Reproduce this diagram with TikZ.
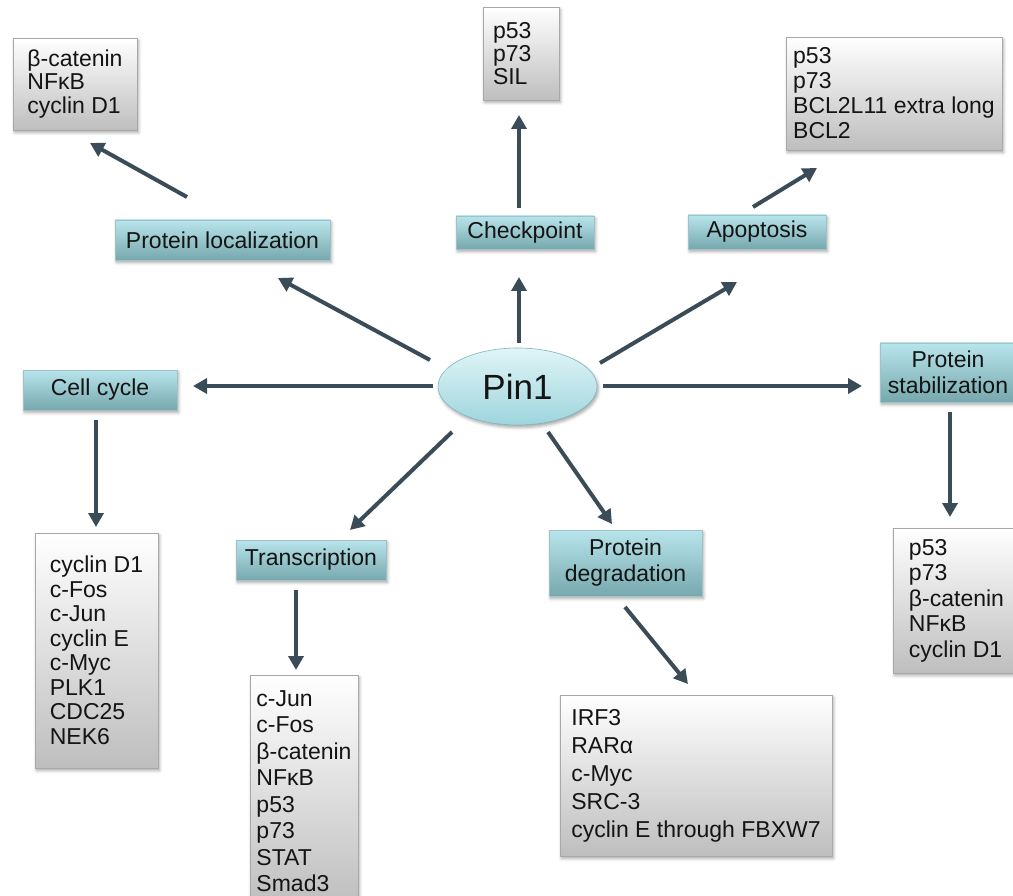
\documentclass[tikz,border=0pt]{standalone}
\usepackage{fontspec}
\setmainfont{Liberation Sans}
\usetikzlibrary{shapes.geometric,shadows,shadows.blur,arrows.meta}
\definecolor{arrc}{RGB}{58,76,88}
\definecolor{cattop}{RGB}{184,229,235}
\definecolor{catbot}{RGB}{118,168,174}
\definecolor{pintop}{RGB}{224,245,247}
\definecolor{pinbot}{RGB}{158,213,221}
\definecolor{pinedge}{RGB}{128,182,192}
\definecolor{listbot}{RGB}{190,190,190}
\definecolor{listmid}{RGB}{247,247,247}
\definecolor{listedge}{RGB}{168,168,168}
\definecolor{txt}{RGB}{20,20,20}
\begin{document}
\begin{tikzpicture}[x=1pt,y=-1pt,
  arr/.style={draw=arrc, line width=4pt, -{Triangle[length=14pt,width=15pt]}},
  shad/.style={blur shadow={shadow xshift=1.5pt, shadow yshift=-2.5pt, shadow blur radius=3pt, shadow opacity=35}},
  cat/.style={rectangle, inner sep=0pt, top color=cattop, bottom color=catbot,
    draw=catbot!70!white, line width=0.4pt, shad, text=txt,
    font=\fontsize{23}{26}\selectfont, align=center},
  lst/.style={rectangle, inner xsep=4pt, inner ysep=2pt, top color=white, middle color=listmid,
    bottom color=listbot, draw=listedge, line width=0.4pt, shad, align=left, text=txt},
  pinn/.style={ellipse, inner sep=0pt, minimum width=159pt, minimum height=77pt,
    top color=pintop, bottom color=pinbot, draw=pinedge, line width=0.6pt, shad, text=txt,
    font=\fontsize{35}{40}\selectfont}
]
\useasboundingbox (0,0) rectangle (1013,896);

% centre
\node[pinn] (pin) at (517.5,386.5) {Pin1};

% categories
\node[cat, minimum width=215pt, minimum height=40pt] (loc) at (222.5,240) {Protein localization};
\node[cat, minimum width=138pt, minimum height=33pt] (chk) at (525,232.5) {Checkpoint};
\node[cat, minimum width=138pt, minimum height=34pt] (apop) at (757,232) {Apoptosis};
\node[cat, minimum width=154pt, minimum height=40pt] (cell) at (100,390) {Cell cycle};
\node[cat, minimum width=136pt, minimum height=59pt] (stab) at (948,372.5) {Protein\\stabilization};
\node[cat, minimum width=150pt, minimum height=40pt] (trans) at (311,560) {Transcription};
\node[cat, minimum width=153pt, minimum height=66pt] (deg) at (625.5,563) {Protein\\degradation};

% lists
\node[lst, minimum width=124pt, minimum height=92pt, font=\fontsize{23}{23.3}\selectfont] (bcat) at (75,84) {β-catenin\\NFκB\\cyclin D1};
\node[lst, text width=56pt, inner xsep=10pt, minimum height=93pt, font=\fontsize{23}{23.3}\selectfont] (sil) at (521,53.5) {p53\\p73\\SIL};
\node[lst, minimum width=216pt, minimum height=113pt, font=\fontsize{23}{25}\selectfont] (bcl) at (894,93.5) {p53\\p73\\BCL2L11 extra long\\BCL2};
\node[lst, minimum width=123pt, minimum height=235pt, font=\fontsize{23}{24.5}\selectfont] (cclist) at (96.5,650.5) {cyclin D1\\c-Fos\\c-Jun\\cyclin E\\c-Myc\\PLK1\\CDC25\\NEK6};
\node[lst, minimum width=108pt, minimum height=232pt, font=\fontsize{23}{26.5}\selectfont] (tlist) at (304,791) {c-Jun\\c-Fos\\β-catenin\\NFκB\\p53\\p73\\STAT\\Smad3};
\node[lst, minimum width=272pt, minimum height=161pt, font=\fontsize{23}{28}\selectfont] (dlist) at (696,775.5) {IRF3\\RARα\\c-Myc\\SRC-3\\cyclin E through FBXW7};
\node[lst, minimum width=127pt, minimum height=145pt, font=\fontsize{23}{25.5}\selectfont] (slist) at (956.5,600.5) {p53\\p73\\β-catenin\\NFκB\\cyclin D1};

% connectors
\draw[arr] ([shift={(-87.5,-26.5)}]pin.center) -- ([shift={(55.5,38)}]loc.center);
\draw[arr] ([shift={(-35.5,-43)}]loc.center) -- ([shift={(15,59)}]bcat.center);
\draw[arr] ([shift={(1.5,-43.5)}]pin.center) -- ([shift={(-6,44.5)}]chk.center);
\draw[arr] ([shift={(-6,-24.5)}]chk.center) -- ([shift={(-2,61.5)}]sil.center);
\draw[arr] ([shift={(82.5,-23.5)}]pin.center) -- ([shift={(-20,50)}]apop.center);
\draw[arr] ([shift={(-4,-25)}]apop.center) -- ([shift={(-77,74.5)}]bcl.center);
\draw[arr] ([shift={(-84.5,-0.5)}]pin.center) -- ([shift={(93,-4)}]cell.center);
\draw[arr] ([shift={(-4,30)}]cell.center) -- ([shift={(-0.5,-123.5)}]cclist.center);
\draw[arr] ([shift={(85.5,-0.5)}]pin.center) -- ([shift={(-86,13.5)}]stab.center);
\draw[arr] ([shift={(2,39.5)}]stab.center) -- ([shift={(-6.5,-83.5)}]slist.center);
\draw[arr] ([shift={(-65.5,45.5)}]pin.center) -- ([shift={(39,-30)}]trans.center);
\draw[arr] ([shift={(-15,30)}]trans.center) -- ([shift={(-8,-121)}]tlist.center);
\draw[arr] ([shift={(30.5,45.5)}]pin.center) -- ([shift={(-13.5,-39)}]deg.center);
\draw[arr] ([shift={(-0.5,44)}]deg.center) -- ([shift={(-8,-91.5)}]dlist.center);
\end{tikzpicture}
\end{document}
